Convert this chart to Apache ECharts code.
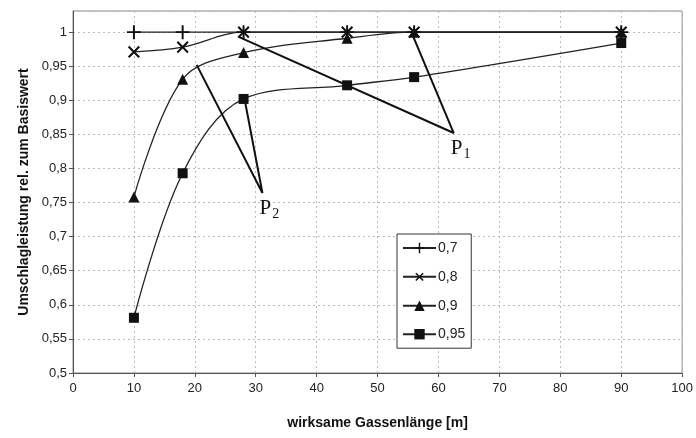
<!DOCTYPE html>
<html>
<head>
<meta charset="utf-8">
<script src="https://cdn.jsdelivr.net/npm/echarts@6/dist/echarts.min.js"></script>
<style>
  html, body { margin: 0; padding: 0; background: #fff; }
  #chart { width: 696px; height: 438px; }
</style>
</head>
<body>
<div id="chart"></div>
<script>
// Gassenlänge [m]
let lengths = [10, 18, 28, 45, 56, 90];

// relative Umschlagleistung je Kurve
let s07 = [1, 1, 1, 1, 1, 1];
let s08 = [0.971, 0.978, 1, 1, 1, 1];
let s09 = [0.758, 0.931, 0.97, 0.991, 1, 1];
let s095 = [0.581, 0.793, 0.902, 0.922, 0.934, 0.984];

let seriesNames = ['0,7', '0,8', '0,9', '0,95'];

// Hinweislinien P1 / P2 (Start, Spitze, Start)
let p1Lines = [[27.2, 0.993], [62.5, 0.852], [55.6, 0.999]];
let p2Lines = [[20.3, 0.952], [31.1, 0.764], [28.2, 0.9]];

let plusPath = 'path://M4.3,0H5.7V4.3H10V5.7H5.7V10H4.3V5.7H0V4.3H4.3Z';

function pairs(ys) {
    return lengths.map(function (x, i) { return [x, ys[i]]; });
}

function pointer(pts, sub) {
    return pts.map(function (p, i) {
        if (i !== 1) return p;
        return {
            value: p,
            label: {
                show: true,
                position: 'bottom',
                align: 'left',
                distance: 2,
                offset: [-3, 0],
                formatter: '{p|P}{s|' + sub + '}',
                rich: {
                    p: { fontFamily: 'Liberation Serif', fontSize: 21, color: '#111' },
                    s: { fontFamily: 'Liberation Serif', fontSize: 14, color: '#111', padding: [12, 0, 0, 1] }
                }
            }
        };
    });
}

function dataSeries(name, ys, symbol, size, rotate) {
    return {
        name: name,
        type: 'line',
        smooth: 0.35,
        data: pairs(ys),
        symbol: symbol,
        symbolSize: size,
        symbolRotate: rotate || 0,
        lineStyle: { color: '#222', width: 1.3 },
        itemStyle: { color: '#111' },
        z: 3
    };
}

function pointerSeries(name, pts, sub) {
    return {
        name: name,
        type: 'line',
        data: pointer(pts, sub),
        symbol: 'circle',
        symbolSize: 1,
        itemStyle: { color: 'rgba(0,0,0,0)' },
        lineStyle: { color: '#111', width: 2 },
        z: 4
    };
}

function fmt(v) {
    let n = Math.round(v * 100) / 100;
    if (Math.abs(v * 20 - Math.round(v * 20)) > 1e-6) return '';
    return String(n).replace('.', ',');
}

let chart = echarts.init(document.getElementById('chart'));

let option = {
    animation: false,
    textStyle: { fontFamily: 'Liberation Sans' },
    grid: {
        left: 73,
        right: 13,
        top: 11,
        bottom: 65,
        show: true,
        borderColor: '#888',
        borderWidth: 1
    },
    legend: {
        data: seriesNames,
        orient: 'vertical',
        left: 397,
        top: 234,
        width: 70,
        padding: [7, 6, 7, 5],
        itemGap: 14.5,
        itemWidth: 33,
        itemHeight: 13,
        backgroundColor: '#fff',
        borderColor: '#333',
        borderWidth: 1,
        borderRadius: 0,
        textStyle: { fontFamily: 'Liberation Sans', fontSize: 14, color: '#222', padding: [0, 0, 0, -3] }
    },
    xAxis: {
        type: 'value',
        min: 0,
        max: 100,
        interval: 10,
        name: 'wirksame Gassenlänge [m]',
        nameLocation: 'middle',
        nameGap: 43,
        nameTextStyle: { fontFamily: 'Liberation Sans', fontSize: 14, fontWeight: 'bold', color: '#111' },
        axisLine: { lineStyle: { color: '#555' } },
        axisTick: { show: true, length: 4, lineStyle: { color: '#555' } },
        axisLabel: { fontSize: 13, color: '#222', margin: 9 },
        splitLine: { show: true, lineStyle: { color: '#bbb', type: [2, 3] } }
    },
    yAxis: {
        type: 'value',
        min: 0.5,
        max: 1.031,
        interval: 0.05,
        name: 'Umschlagleistung rel. zum Basiswert',
        nameLocation: 'middle',
        nameGap: 33,
        nameTextStyle: { fontFamily: 'Liberation Sans', fontSize: 14, fontWeight: 'bold', color: '#111' },
        axisLine: { show: true, lineStyle: { color: '#555' } },
        axisTick: { show: true, length: 4, lineStyle: { color: '#555' } },
        axisLabel: { fontSize: 13, color: '#222', margin: 6, formatter: fmt, showMaxLabel: false },
        splitLine: { show: true, lineStyle: { color: '#bbb', type: [2, 3] } }
    },
    series: [
        dataSeries(seriesNames[0], s07, plusPath, 14),
        dataSeries(seriesNames[1], s08, plusPath, 15, 45),
        dataSeries(seriesNames[2], s09, 'triangle', 11),
        dataSeries(seriesNames[3], s095, 'rect', 10),
        pointerSeries('P1', p1Lines, '1'),
        pointerSeries('P2', p2Lines, '2')
    ]
};

chart.setOption(option);
</script>
</body>
</html>
